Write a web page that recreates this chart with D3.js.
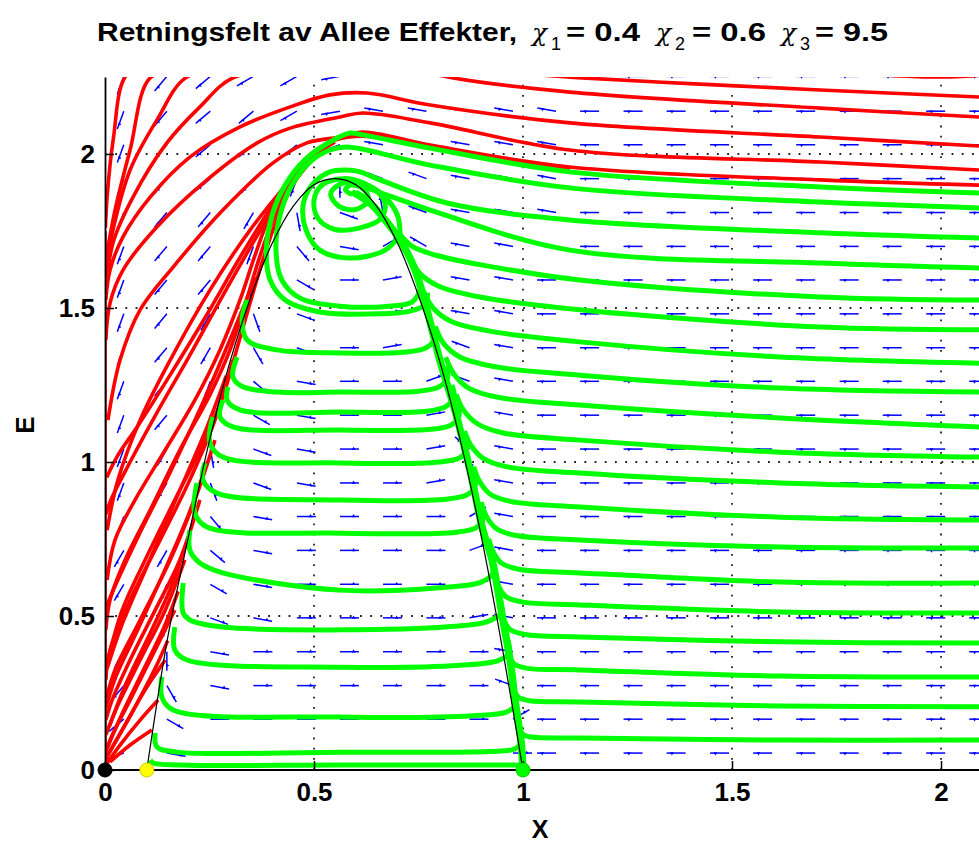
<!DOCTYPE html>
<html>
<head>
<meta charset="utf-8">
<script src="https://cdn.jsdelivr.net/npm/d3@7"></script>
<style>
body { margin: 0; background: #fff; }
svg { display: block; font-family: "Liberation Sans", Arial, sans-serif; }
</style>
</head>
<body>
<div id="chart"></div>
<script>
// ---- data (X, E) ----
var xTicks = [0, 0.5, 1, 1.5, 2];
var eTicks = [0, 0.5, 1, 1.5, 2];

// direction field grid (arrow tails) and arrow directions, 10 degree codes, bottom row first
var quiverX = [0.045,0.148,0.252,0.355,0.459,0.562,0.665,0.769,0.872,0.976,1.079,1.182,1.286,1.389,1.493,1.596,1.699,1.803,1.906,2.01,2.113];
var quiverE = [0.055,0.165,0.274,0.384,0.494,0.603,0.713,0.823,0.932,1.042,1.152,1.262,1.371,1.481,1.591,1.7,1.81,1.92,2.03,2.139,2.252];
var dirCodes = "0123456789abcdefghijklmnopqrstuvwxyz";
var quiverRows = [
  "kz00000000iiiiiiiiiii",
  "mx00000003iiiiiiiiiii",
  "nuz000000giiiiiiiiiii",
  "orz000000hiiiiiiiiiii",
  "oqyz00001hiiiiiiiiiii",
  "opxz00001hiiiiiiiiiii",
  "oowz00002hiiiiiiiiiii",
  "povz00003hiiiiiiiiiii",
  "potyz0018hiiiiiiiiiii",
  "posyz001ehiiiiiiiiiii",
  "pnqxz001fhiiiiiiiiiii",
  "pnpwz002ghiiiiiiiiiii",
  "pnouy014ghiiiiiiiiiii",
  "pnoty01ahhiiiiiiiiiii",
  "pnnqx01ehhiiiiiiiiiii",
  "pnnpvz3fhhhiiiiiiiiii",
  "pnnosyaghhhiiiiiiiiii",
  "pnmnprgghhhiiiiiiiiii",
  "pnmmmkhhhhhiiiiiiiiii",
  "pnmmljhhhhhiiiiiiiiii",
  "pnmlljhhhhhiiiiiiiiii"
];

// red trajectories (go to extinction)
var redAxis = [[0,0],[0,1.75]];
var redTop = [
  [[0.3,2.42],[0.1,2.3],[0.048,2.25],[0.02,2.05],[0.005,1.86],[0.001,1.76]],
  [[2.141,2.273],[2.091,2.256],[1.974,2.25],[1.782,2.263],[1.423,2.286],[0.945,2.318],[0.6,2.338],[0.347,2.305],[0.179,2.266],[0.108,2.247],[0.06,2.013],[0.024,1.818],[0.002,1.656]],
  [[2.091,2.185],[1.711,2.208],[1.423,2.227],[1.141,2.247],[0.945,2.266],[0.706,2.289],[0.6,2.295],[0.467,2.279],[0.306,2.247],[0.227,2.153],[0.148,2.036],[0.067,1.86],[0.019,1.711],[0.002,1.558]],
  [[2.091,2.12],[1.711,2.149],[1.112,2.201],[0.833,2.247],[0.706,2.286],[0.6,2.312],[0.467,2.299],[0.323,2.273],[0.196,2.25],[0.124,2.11],[0.06,1.948],[0.019,1.753],[0.002,1.623]],
  [[2.091,2.026],[1.711,2.055],[1.112,2.101],[0.778,2.159],[0.627,2.198],[0.538,2.192],[0.443,2.153],[0.323,2.088],[0.203,1.99],[0.108,1.86],[0.043,1.731],[0.012,1.623],[0.002,1.526]],
  [[2.091,1.948],[1.711,1.974],[1.112,2.013],[0.778,2.101],[0.617,2.133],[0.562,2.12],[0.443,2.084],[0.364,2.036],[0.244,1.916],[0.124,1.763],[0.043,1.623],[0.012,1.516],[0.002,1.396]],
  [[2.091,1.899],[1.711,1.916],[1.112,1.958],[0.778,2.029],[0.617,2.071],[0.562,2.055],[0.483,2.036],[0.402,1.971],[0.282,1.818],[0.163,1.633],[0.084,1.494],[0.036,1.331],[0.007,1.136]]
];
var redFan = [
  [[1.112,1.948],[0.778,2.023],[0.617,2.058],[0.55,2.045],[0.49,1.997],[0.443,1.922],[0.395,1.802],[0.359,1.672],[0.323,1.526],[0.275,1.364],[0.215,1.201],[0.144,1.039],[0.072,0.877],[0.024,0.747],[0.005,0.617]],
  [[0.55,2.039],[0.495,1.987],[0.447,1.909],[0.402,1.786],[0.366,1.649],[0.335,1.51],[0.299,1.364],[0.251,1.218],[0.179,1.039],[0.108,0.844],[0.048,0.682],[0.012,0.552],[0.002,0.455]],
  [[0.5,1.987],[0.452,1.906],[0.409,1.779],[0.376,1.649],[0.347,1.516],[0.318,1.38],[0.287,1.234],[0.239,1.071],[0.167,0.877],[0.096,0.682],[0.041,0.519],[0.007,0.357]],
  [[0.5,1.99],[0.42,1.87],[0.33,1.68],[0.24,1.47],[0.15,1.27],[0.08,1.12],[0.03,1.02],[0.004,0.95]],
  [[0.46,1.93],[0.38,1.77],[0.29,1.56],[0.2,1.34],[0.12,1.15],[0.06,1.0],[0.015,0.88],[0.002,0.83]],
  [[0.443,1.916],[0.347,1.753],[0.251,1.558],[0.156,1.331],[0.084,1.136],[0.031,0.942],[0.005,0.779]],
  [[0.36,1.6],[0.3,1.4],[0.23,1.18],[0.15,0.95],[0.08,0.76],[0.025,0.6],[0.003,0.53]],
  [[0.306,1.331],[0.263,1.136],[0.203,0.942],[0.132,0.747],[0.06,0.552],[0.012,0.39],[0.002,0.292]],
  [[0.29,1.28],[0.24,1.1],[0.17,0.88],[0.1,0.66],[0.04,0.47],[0.005,0.33]],
  [[0.263,1.071],[0.215,0.877],[0.156,0.682],[0.084,0.487],[0.024,0.325],[0.002,0.227]],
  [[0.245,1.0],[0.2,0.83],[0.14,0.64],[0.08,0.46],[0.025,0.3],[0.002,0.2]],
  [[0.227,0.877],[0.179,0.682],[0.12,0.519],[0.06,0.357],[0.017,0.227],[0.002,0.162]],
  [[0.2,0.76],[0.16,0.6],[0.11,0.45],[0.05,0.28],[0.01,0.14]],
  [[0.191,0.682],[0.144,0.519],[0.084,0.357],[0.031,0.211],[0.002,0.114]],
  [[0.175,0.58],[0.14,0.46],[0.09,0.32],[0.04,0.18],[0.005,0.07]],
  [[0.167,0.519],[0.12,0.39],[0.06,0.227],[0.012,0.097],[0,0.049]],
  [[0.15,0.42],[0.12,0.33],[0.07,0.2],[0.02,0.08],[0,0.03]],
  [[0.144,0.357],[0.096,0.26],[0.048,0.146],[0.007,0.049]],
  [[0.127,0.227],[0.084,0.162],[0.036,0.081],[0.002,0.016]],
  [[0.112,0.13],[0.06,0.081],[0.012,0.026]]
];

// green trajectories (go to coexistence)
var greenRight = [
  [[2.091,1.873],[1.711,1.893],[1.112,1.942],[0.778,2.019],[0.617,2.062],[0.586,2.068],[0.538,2.039],[0.478,1.981],[0.431,1.899],[0.4,1.802],[0.386,1.688],[0.395,1.591],[0.431,1.526],[0.514,1.487],[0.658,1.481],[0.73,1.49],[0.765,1.51],[0.772,1.55]],
  [[2.091,1.825],[1.711,1.844],[1.112,1.89],[0.778,1.964],[0.579,2.023],[0.538,2.013],[0.49,1.974],[0.447,1.899],[0.419,1.802],[0.409,1.688],[0.423,1.591],[0.467,1.532],[0.562,1.506],[0.68,1.506],[0.735,1.52],[0.755,1.56]],
  [[2.091,1.727],[1.711,1.744],[1.112,1.786],[0.818,1.841],[0.658,1.916],[0.61,1.942],[0.579,1.948],[0.538,1.942],[0.495,1.899],[0.474,1.834],[0.481,1.753],[0.514,1.688],[0.586,1.662],[0.67,1.688],[0.706,1.737]],
  [[2.091,1.63],[1.711,1.646],[1.112,1.688],[0.778,1.818],[0.617,1.893],[0.59,1.9]],
  [[2.091,1.526],[1.711,1.536],[1.136,1.591],[0.9,1.64],[0.79,1.672],[0.735,1.7],[0.705,1.74]],
  [[2.091,1.429],[1.711,1.438],[1.136,1.494],[0.9,1.535],[0.8,1.57],[0.755,1.61],[0.73,1.66]],
  [[2.091,1.321],[1.615,1.341],[1.136,1.39],[0.92,1.425],[0.83,1.455],[0.785,1.5],[0.76,1.56]],
  [[2.091,1.227],[1.615,1.24],[1.136,1.282],[0.93,1.31],[0.85,1.34],[0.81,1.385],[0.79,1.44]],
  [[2.091,1.114],[1.615,1.143],[1.136,1.185],[0.94,1.21],[0.87,1.24],[0.835,1.285],[0.815,1.34]],
  [[2.091,1.016],[1.615,1.032],[1.136,1.071],[0.95,1.095],[0.89,1.125],[0.857,1.17],[0.84,1.22]],
  [[2.091,0.919],[1.615,0.932],[1.136,0.964],[0.96,0.985],[0.905,1.012],[0.875,1.055],[0.86,1.1]],
  [[2.091,0.812],[1.615,0.821],[1.136,0.854],[0.97,0.872],[0.92,0.897],[0.895,0.94],[0.882,0.985]],
  [[2.091,0.721],[1.615,0.724],[1.136,0.747],[0.98,0.762],[0.935,0.785],[0.912,0.825],[0.9,0.87]],
  [[2.091,0.607],[1.615,0.61],[1.136,0.64],[0.99,0.652],[0.948,0.672],[0.928,0.71],[0.918,0.75]],
  [[2.091,0.51],[1.615,0.513],[1.136,0.536],[1.0,0.545],[0.96,0.562],[0.942,0.595],[0.933,0.635]],
  [[2.091,0.412],[1.615,0.416],[1.136,0.432],[1.005,0.44],[0.97,0.455],[0.955,0.485],[0.948,0.52]],
  [[2.091,0.302],[1.615,0.305],[1.136,0.325],[1.01,0.33],[0.98,0.343],[0.967,0.37],[0.962,0.4]],
  [[2.091,0.205],[1.615,0.208],[1.136,0.221],[1.015,0.225],[0.99,0.235],[0.979,0.258],[0.975,0.285]],
  [[2.091,0.097],[1.615,0.097],[1.136,0.104],[1.02,0.107],[1.0,0.115],[0.991,0.135],[0.988,0.16]]
];
var greenDome = [
  [[0.34,1.526],[0.328,1.461],[0.34,1.396],[0.411,1.364],[0.562,1.354],[0.72,1.357],[0.77,1.372],[0.79,1.405],[0.782,1.44]],
  [[0.316,1.341],[0.306,1.276],[0.33,1.244],[0.411,1.227],[0.562,1.227],[0.75,1.23],[0.8,1.245],[0.82,1.275],[0.815,1.31]],
  [[0.294,1.244],[0.292,1.201],[0.323,1.169],[0.562,1.162],[0.77,1.165],[0.815,1.18],[0.835,1.21],[0.83,1.25]],
  [[0.282,1.201],[0.275,1.146],[0.306,1.114],[0.562,1.104],[0.78,1.106],[0.828,1.12],[0.847,1.15],[0.842,1.19]],
  [[0.258,1.146],[0.251,1.062],[0.282,1.016],[0.562,0.997],[0.8,1.0],[0.85,1.015],[0.866,1.045],[0.862,1.085]],
  [[0.239,0.997],[0.234,0.942],[0.268,0.899],[0.562,0.877],[0.82,0.88],[0.868,0.895],[0.886,0.925],[0.882,0.965]],
  [[0.22,0.932],[0.215,0.834],[0.244,0.789],[0.562,0.769],[0.84,0.772],[0.888,0.787],[0.905,0.817],[0.9,0.857]],
  [[0.203,0.779],[0.203,0.714],[0.227,0.672],[0.282,0.64],[0.562,0.584],[0.8,0.592],[0.9,0.61],[0.928,0.64],[0.925,0.68]],
  [[0.187,0.607],[0.187,0.51],[0.203,0.487],[0.282,0.464],[0.562,0.455],[0.82,0.465],[0.915,0.482],[0.948,0.51],[0.946,0.55]],
  [[0.167,0.464],[0.167,0.39],[0.196,0.357],[0.562,0.334],[0.85,0.34],[0.94,0.355],[0.967,0.38],[0.964,0.42]],
  [[0.136,0.302],[0.136,0.237],[0.163,0.195],[0.562,0.172],[0.88,0.176],[0.96,0.188],[0.982,0.21],[0.98,0.25]],
  [[0.12,0.12],[0.124,0.075],[0.172,0.058],[0.562,0.058],[0.92,0.06],[0.98,0.068],[0.993,0.085],[0.992,0.11]],
  [[0.108,0.032],[0.115,0.023],[0.179,0.016],[0.562,0.016],[1.0,0.016]]
];
var greenManifold = [[1.0,0],[0.995,0.097],[0.988,0.162],[0.981,0.227],[0.969,0.357],[0.952,0.487],[0.926,0.682],[0.904,0.779],[0.873,0.974],[0.837,1.169],[0.801,1.331],[0.77,1.494],[0.742,1.623],[0.706,1.721],[0.67,1.786],[0.634,1.841],[0.598,1.873]];
var greenSpiral = [[0.706,1.737],[0.7,1.8],[0.67,1.86],[0.62,1.905],[0.57,1.92],[0.52,1.9],[0.5,1.85],[0.51,1.79],[0.55,1.755],[0.61,1.76],[0.66,1.79],[0.67,1.84],[0.64,1.89],[0.6,1.91],[0.56,1.9],[0.54,1.87],[0.56,1.83],[0.6,1.82],[0.63,1.85],[0.62,1.885],[0.59,1.9],[0.575,1.885],[0.59,1.87],[0.6,1.88]];

// black curve through the equilibria
var blackCurve = [[0.1,0],[0.15,0.43],[0.2,0.76],[0.25,1.07],[0.3,1.33],[0.35,1.54],[0.4,1.71],[0.45,1.83],[0.5,1.9],[0.55,1.92],[0.6,1.9],[0.65,1.83],[0.7,1.71],[0.75,1.54],[0.8,1.33],[0.85,1.07],[0.9,0.76],[0.95,0.4],[1.0,0]];

var equilibria = [
  {x: 0, e: 0, color: "#000000"},
  {x: 0.1, e: 0, color: "#ffff00"},
  {x: 1, e: 0, color: "#00ff00"}
];

// ---- drawing ----
var width = 979, height = 845;
var x = d3.scaleLinear().domain([0, 2.25]).range([105, 105 + 418 * 2.25]);
var y = d3.scaleLinear().domain([0, 2.25]).range([770, 77]);

var svg = d3.select("#chart").append("svg")
  .attr("width", width)
  .attr("height", height);

svg.append("defs").append("clipPath").attr("id", "plotClip")
  .append("rect")
  .attr("x", x(0)).attr("y", y(2.25))
  .attr("width", width - x(0)).attr("height", y(0) - y(2.25));

// dotted grid
var grid = svg.append("g");
grid.selectAll(".gx").data(xTicks.slice(1)).enter().append("line")
  .attr("x1", function(d){ return x(d); }).attr("x2", function(d){ return x(d); })
  .attr("y1", y(0)).attr("y2", y(2.25));
grid.selectAll(".gy").data(eTicks.slice(1)).enter().append("line")
  .attr("y1", function(d){ return y(d); }).attr("y2", function(d){ return y(d); })
  .attr("x1", x(0)).attr("x2", width);
grid.selectAll("line")
  .attr("stroke", "#222").attr("stroke-width", 1.8)
  .attr("stroke-dasharray", "1.8,8.4");

var plot = svg.append("g").attr("clip-path", "url(#plotClip)");

// arrows
var arrows = [];
quiverRows.forEach(function(row, j){
  row.split("").forEach(function(c, i){
    arrows.push({x: quiverX[i], e: quiverE[j], a: dirCodes.indexOf(c) * 10});
  });
});
var arrowLen = 19;
var ag = plot.append("g").selectAll("g").data(arrows).enter().append("g")
  .attr("transform", function(d){
    return "translate(" + x(d.x) + "," + y(d.e) + ") rotate(" + (-d.a) + ")";
  });
ag.append("line")
  .attr("x1", 0).attr("y1", 0).attr("x2", arrowLen).attr("y2", 0)
  .attr("stroke", "#0000ff").attr("stroke-width", 1.5);
ag.append("path")
  .attr("d", "M" + (arrowLen * 0.62) + ",0.8 L" + (arrowLen * 0.72) + ",-2.4 L" + (arrowLen * 0.82) + ",0.8 Z")
  .attr("fill", "#0000ff");

var line = d3.line()
  .x(function(d){ return x(d[0]); })
  .y(function(d){ return y(d[1]); })
  .curve(d3.curveCatmullRom.alpha(0.5));

// red
plot.append("g").selectAll("path").data([redAxis].concat(redTop, redFan)).enter().append("path")
  .attr("d", line)
  .attr("fill", "none").attr("stroke", "#ff0000").attr("stroke-width", 3.6)
  .attr("stroke-linejoin", "round");

// green
plot.append("g").selectAll("path").data(greenRight.concat(greenDome, [greenSpiral])).enter().append("path")
  .attr("d", line)
  .attr("fill", "none").attr("stroke", "#00ff00").attr("stroke-width", 5)
  .attr("stroke-linejoin", "round");
plot.append("path").datum(greenManifold)
  .attr("d", line)
  .attr("fill", "none").attr("stroke", "#00ff00").attr("stroke-width", 7.5);

// black curve
plot.append("path").datum(blackCurve)
  .attr("d", line)
  .attr("fill", "none").attr("stroke", "#000").attr("stroke-width", 1.2);

// axes
var xAxis = svg.append("g")
  .attr("transform", "translate(0," + y(0) + ")")
  .call(d3.axisBottom(x).tickValues(xTicks).tickSize(-9).tickSizeOuter(0).tickPadding(13)
    .tickFormat(d3.format("")));
var yAxis = svg.append("g")
  .attr("transform", "translate(" + x(0) + ",0)")
  .call(d3.axisLeft(y).tickValues(eTicks).tickSize(-9).tickSizeOuter(0).tickPadding(10)
    .tickFormat(d3.format("")));
xAxis.select(".domain").attr("d", "M" + x(0) + ",0H" + width);
[xAxis, yAxis].forEach(function(a){
  a.select(".domain").attr("stroke", "#000").attr("stroke-width", 1.8);
  a.selectAll(".tick line").attr("stroke", "#000").attr("stroke-width", 1.5);
  a.selectAll(".tick text").attr("fill", "#000")
    .style("font-family", "Liberation Sans, Arial, sans-serif")
    .style("font-size", "26px").style("font-weight", "bold");
});

// equilibrium points
svg.append("g").selectAll("circle").data(equilibria).enter().append("circle")
  .attr("cx", function(d){ return x(d.x); })
  .attr("cy", function(d){ return y(d.e); })
  .attr("r", 7)
  .attr("fill", function(d){ return d.color; })
  .attr("stroke", function(d){ return d.color === "#000000" ? "#000" : d3.color(d.color).darker(0.6); })
  .attr("stroke-width", 1);

// labels
svg.append("text").attr("x", 540).attr("y", 838).attr("text-anchor", "middle")
  .style("font-size", "25px").style("font-weight", "bold").text("X");
svg.append("text").attr("transform", "translate(34,425) rotate(-90)").attr("text-anchor", "middle")
  .style("font-size", "26px").style("font-weight", "bold").text("E");

// title
var title = svg.append("g").style("font-size", "25px").style("font-weight", "bold");
title.append("text").attr("x", 97).attr("y", 41)
  .attr("textLength", 420).attr("lengthAdjust", "spacingAndGlyphs")
  .text("Retningsfelt av Allee Effekter,");
var chiParts = [
  {sx: 532, sub: "1", val: "= 0.4", vx: 566, vw: 74},
  {sx: 656, sub: "2", val: "= 0.6", vx: 692, vw: 74},
  {sx: 781, sub: "3", val: "= 9.5", vx: 815, vw: 73}
];
chiParts.forEach(function(p){
  title.append("text").attr("x", p.sx).attr("y", 41)
    .style("font-family", "DejaVu Serif, serif").style("font-weight", "normal")
    .style("font-style", "italic").style("font-size", "25px").text("\u03c7");
  title.append("text").attr("x", p.sx + 19).attr("y", 50)
    .style("font-weight", "normal").style("font-size", "18px").text(p.sub);
  title.append("text").attr("x", p.vx).attr("y", 41)
    .attr("textLength", p.vw).attr("lengthAdjust", "spacingAndGlyphs").text(p.val);
});
</script>
</body>
</html>
